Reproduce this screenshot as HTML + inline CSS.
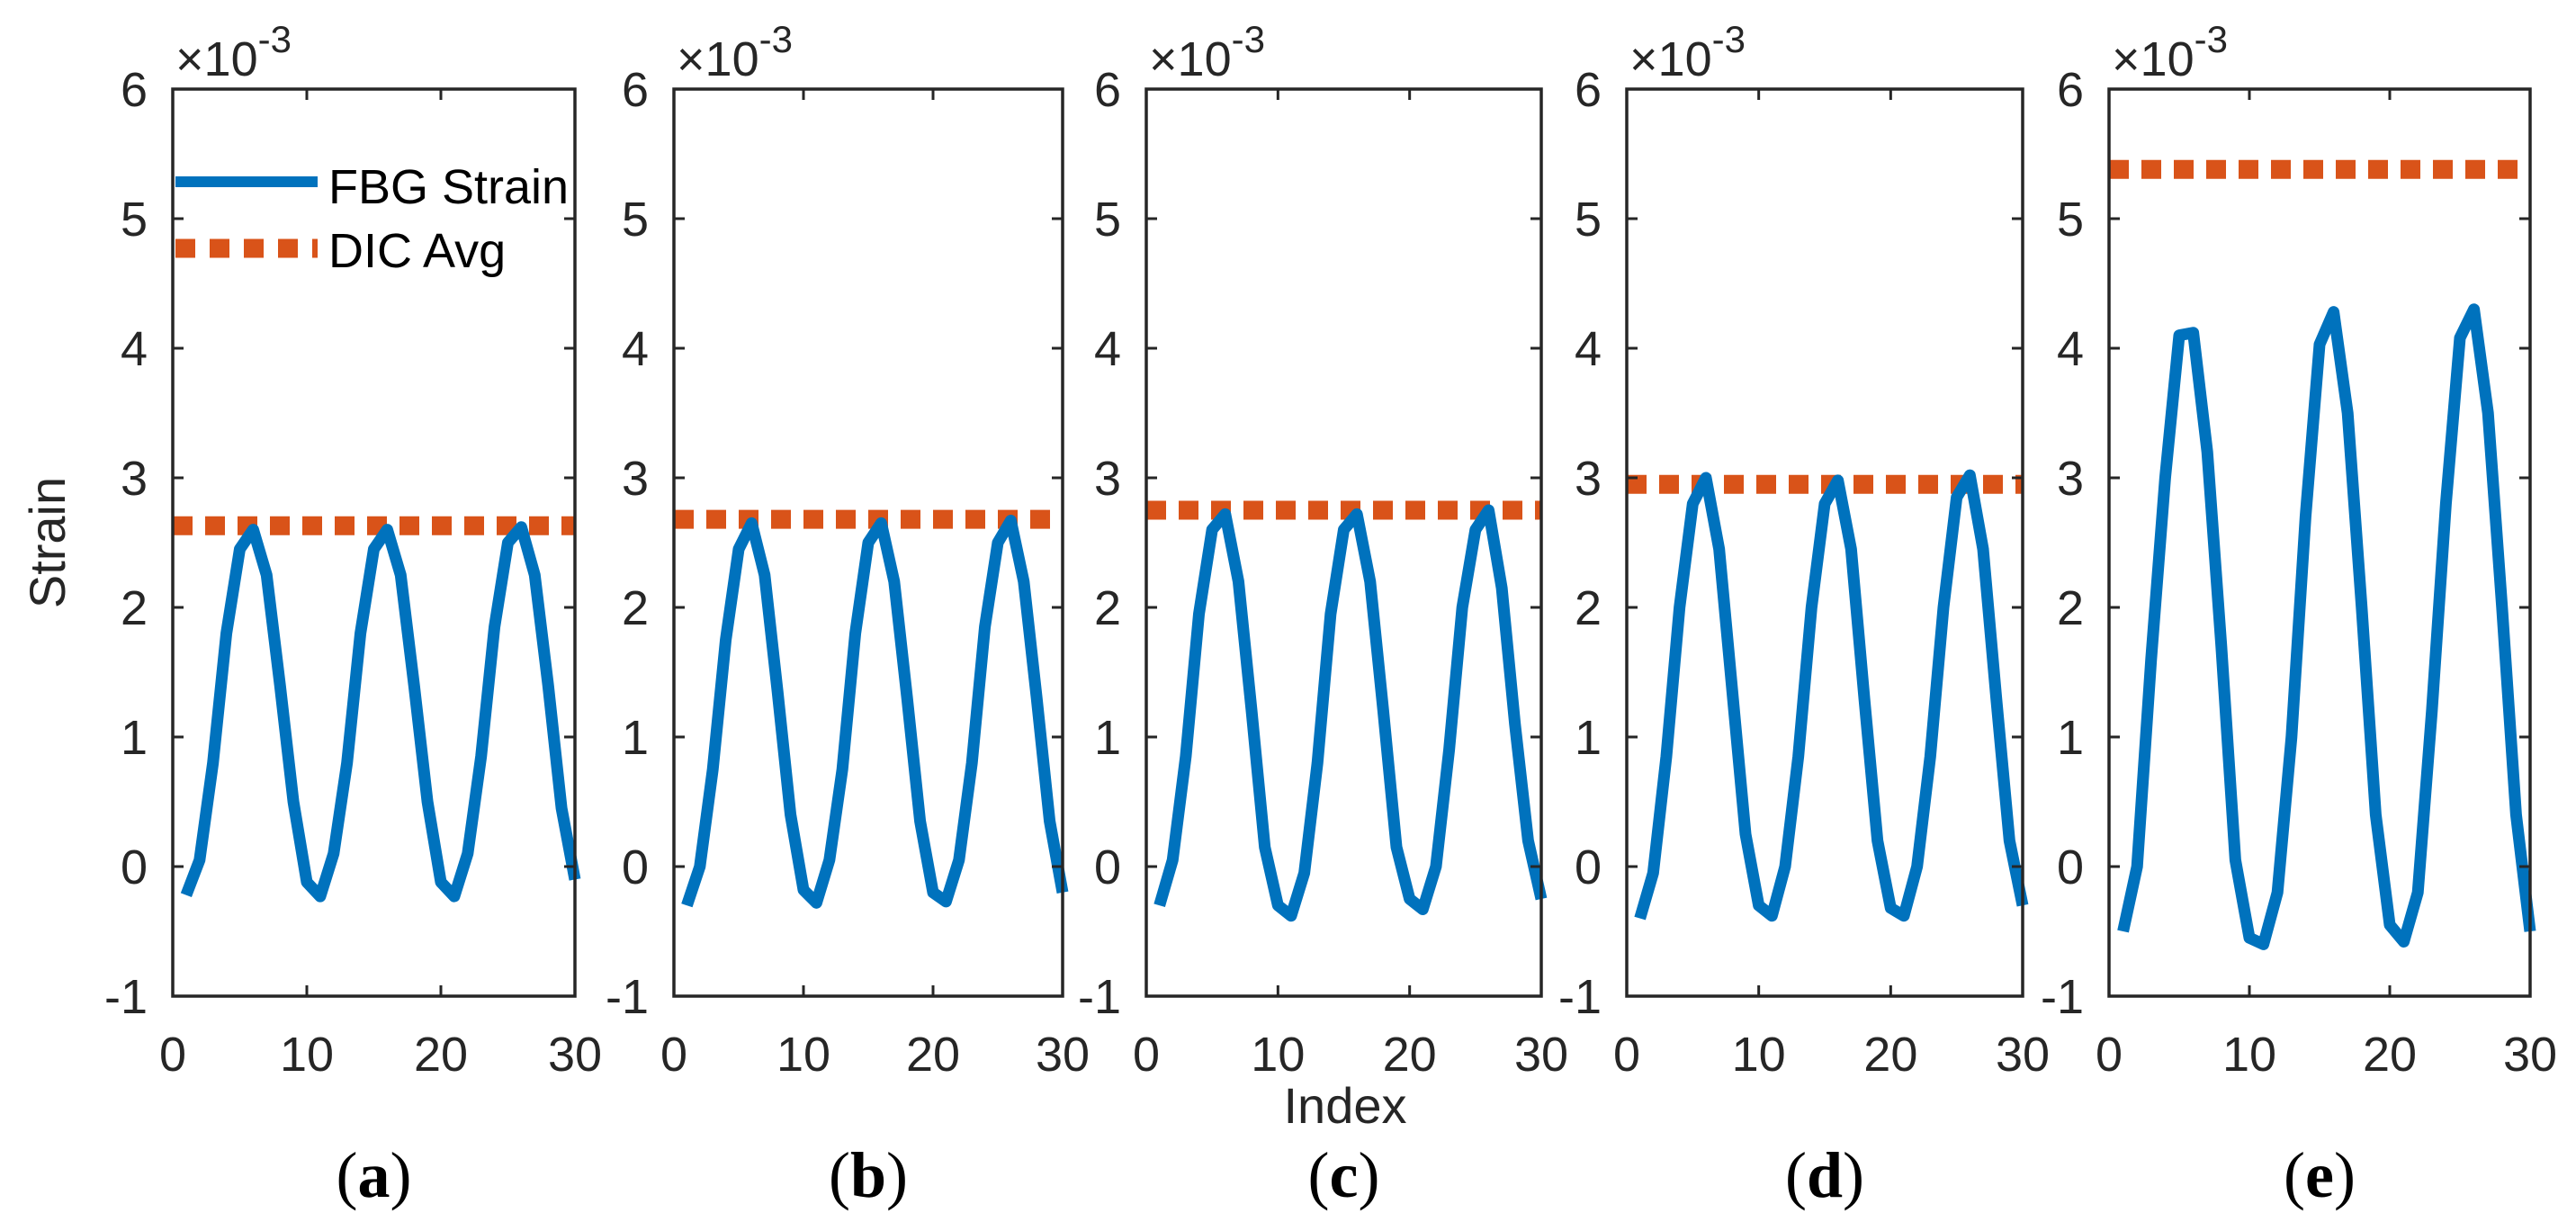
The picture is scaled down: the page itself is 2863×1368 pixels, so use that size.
<!DOCTYPE html>
<html><head><meta charset="utf-8"><style>
html,body{margin:0;padding:0;background:#fff;}
svg{display:block;font-family:"Liberation Sans",Arial,sans-serif;}
</style></head><body>
<svg id="fig" width="2863" height="1368" viewBox="0 0 2863 1368" xmlns="http://www.w3.org/2000/svg"></svg>
<script>
const indexValues = [1,2,3,4,5,6,7,8,9,10,11,12,13,14,15,16,17,18,19,20,21,22,23,24,25,26,27,28,29,30];
const strainA = [-0.22,0.05,0.8,1.8,2.45,2.6,2.25,1.4,0.5,-0.12,-0.23,0.1,0.8,1.8,2.45,2.6,2.25,1.4,0.5,-0.12,-0.23,0.1,0.85,1.85,2.5,2.62,2.25,1.4,0.45,-0.1];
const strainB = [-0.3,0.0,0.75,1.75,2.45,2.65,2.25,1.35,0.4,-0.18,-0.28,0.05,0.75,1.8,2.5,2.65,2.2,1.3,0.35,-0.2,-0.27,0.05,0.8,1.85,2.5,2.67,2.2,1.3,0.35,-0.2];
const strainC = [-0.3,0.05,0.85,1.95,2.6,2.72,2.2,1.2,0.15,-0.3,-0.38,-0.05,0.8,1.95,2.6,2.72,2.2,1.2,0.15,-0.25,-0.33,0.0,0.9,2.0,2.6,2.75,2.15,1.1,0.2,-0.25];
const strainD = [-0.4,-0.05,0.85,2.0,2.8,3.0,2.45,1.35,0.25,-0.3,-0.38,0.0,0.85,2.0,2.8,2.98,2.45,1.3,0.2,-0.32,-0.38,0.0,0.85,2.0,2.85,3.02,2.45,1.3,0.2,-0.3];
const strainE = [-0.5,0.0,1.6,3.0,4.1,4.12,3.2,1.7,0.05,-0.55,-0.6,-0.2,1.0,2.7,4.03,4.28,3.5,2.0,0.4,-0.45,-0.58,-0.2,1.2,2.8,4.08,4.3,3.5,2.0,0.4,-0.5];
const dicAvg = [2.63,2.68,2.75,2.95,5.38];
const panelLabels = ["a","b","c","d","e"];
const yTicks = [-1,0,1,2,3,4,5,6];
const xTicks = [0,10,20,30];
const series = [strainA,strainB,strainC,strainD,strainE];

const NS="http://www.w3.org/2000/svg";
const svg=document.getElementById('fig');
const boxes=[[192,639],[749,1181],[1274,1713],[1808,2248],[2344,2812]];
const TOP=99,BOT=1107;
function mk(t,a,p){const e=document.createElementNS(NS,t);for(const k in a)e.setAttribute(k,a[k]);(p||svg).appendChild(e);return e;}
const BLUE="#0072BD",ORANGE="#D95319",AX="#262626";

boxes.forEach((b,i)=>{
  const L=b[0],R=b[1];
  const sx=v=>L+(v-0)/(30-0)*(R-L);
  const sy=v=>BOT-(v-(-1))/(6-(-1))*(BOT-TOP);
  const g=mk('g',{});
  
  
  const dl=mk('line',{x1:L,x2:R,y1:sy(dicAvg[i]),y2:sy(dicAvg[i]),stroke:ORANGE,'stroke-width':21,'stroke-dasharray':'22 14'},g);
  
  
  const pts=indexValues.map((x,j)=>sx(x)+','+sy(series[i][j])).join(' ');
  const pl=mk('polyline',{points:pts,fill:'none',stroke:BLUE,'stroke-width':13,'stroke-linejoin':'round'},g);
  
  
  const rc=mk('rect',{x:L,y:TOP,width:R-L,height:BOT-TOP,fill:'none',stroke:AX,'stroke-width':3.5},g);
  
  
  yTicks.forEach(t=>{
    const y=sy(t);
    mk('line',{x1:L,x2:L+12,y1:y,y2:y,stroke:AX,'stroke-width':3},g);
    mk('line',{x1:R-12,x2:R,y1:y,y2:y,stroke:AX,'stroke-width':3},g);
    const tx=mk('text',{x:L-28,y:y+19,'text-anchor':'end','font-size':54,fill:AX},g);
    tx.textContent=t<0?'-'+Math.abs(t):String(t);
    
    
  });
  xTicks.forEach(t=>{
    const x=sx(t);
    mk('line',{x1:x,x2:x,y1:BOT,y2:BOT-12,stroke:AX,'stroke-width':3},g);
    mk('line',{x1:x,x2:x,y1:TOP,y2:TOP+12,stroke:AX,'stroke-width':3},g);
    const tx=mk('text',{x:x,y:1190,'text-anchor':'middle','font-size':54,fill:AX},g);
    tx.textContent=String(t);
    
    
  });
  const ex=mk('text',{x:L+3,y:84,'font-size':54,fill:AX},g);
  ex.innerHTML='×10<tspan dy="-26" font-size="42">-3</tspan>';
  
  
  const pla=mk('text',{x:(L+R)/2,y:1330,'text-anchor':'middle','font-size':72,'font-family':'"Liberation Serif",serif',fill:'#000'},g);
  pla.innerHTML='(<tspan font-weight="bold">'+panelLabels[i]+'</tspan>)';
  
  
});

const lg=mk('g',{});


mk('line',{x1:195,x2:353,y1:202,y2:202,stroke:BLUE,'stroke-width':12},lg);
mk('line',{x1:195,x2:353,y1:276,y2:276,stroke:ORANGE,'stroke-width':21,'stroke-dasharray':'22 16'},lg);
const l1=mk('text',{x:365,y:226,'font-size':54,fill:'#000'},lg);l1.textContent='FBG Strain';


const l2=mk('text',{x:365,y:297,'font-size':54,fill:'#000'},lg);l2.textContent='DIC Avg';



const yl=mk('text',{x:0,y:0,'text-anchor':'middle','font-size':56,fill:AX,transform:'translate(72,603) rotate(-90)'});
yl.textContent='Strain';


const xl=mk('text',{x:1495,y:1248,'text-anchor':'middle','font-size':56,fill:AX});
xl.textContent='Index';


</script>
</body></html>
